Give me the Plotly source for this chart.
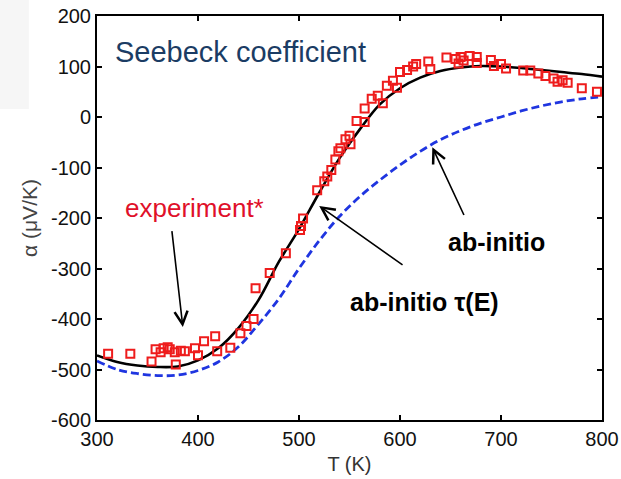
import plotly.graph_objects as go

# ---- data ----
T_exp = [311, 333, 354, 358, 363, 366, 370, 372, 377, 378, 383, 387, 397, 400, 406, 417, 419, 432,
         442, 448, 455, 457, 471, 487, 501, 502, 504, 518, 525, 528, 532, 536, 539, 541, 546, 550,
         551, 557, 565, 565, 572, 578, 583, 587, 593, 597, 600, 607, 613, 616, 628, 630, 646, 655,
         658, 660, 663, 669, 676, 676, 690, 693, 700, 705, 722, 729, 737, 744, 752, 756, 761, 766,
         780, 795]
S_exp = [-469, -469, -484, -460, -466, -458, -456, -460, -466, -490, -463, -464, -458, -472, -444, -434, -464, -457,
         -428, -414, -400, -339, -309, -270, -224, -216, -201, -145, -127, -118, -105, -84, -68, -62, -44, -37,
         -54, -8, -10, 17, 36, 42, 27, 62, 72, 58, 89, 93, 100, 105, 110, 95, 118, 115,
         106, 119, 112, 121, 119, 107, 113, 101, 105, 96, 92, 92, 86, 81, 76, 70, 73, 68,
         57, 50]

T_calc = [300, 320, 340, 360, 380, 400, 420, 440, 460, 480, 500, 520, 540, 560, 580, 600, 620, 640,
          660, 680, 700, 720, 740, 760, 780, 800]
S_tauE = [-472, -485, -492, -495, -494, -482, -458, -418, -362, -287, -222, -150, -82, -25, 25, 57, 78, 91,
          98, 101, 100, 97, 93, 89, 85, 80]
S_abinitio = [-483, -500, -508, -512, -511, -502, -485, -455, -410, -360, -300, -245, -197, -158, -125, -95, -68, -45,
              -27, -12, 0, 12, 22, 30, 36, 40]

x_ticks = [300, 400, 500, 600, 700, 800]
y_ticks = [-600, -500, -400, -300, -200, -100, 0, 100, 200]

FONT = "Arial, Liberation Sans, Helvetica, sans-serif"

fig = go.Figure()
fig.add_trace(go.Scatter(x=T_calc, y=S_abinitio, mode="lines", line=dict(color="#1f35e0", width=2.8, dash="8px,4px", shape="spline"),
                         showlegend=False, hoverinfo="skip"))
fig.add_trace(go.Scatter(x=T_calc, y=S_tauE, mode="lines", line=dict(color="black", width=2.6, shape="spline"),
                         showlegend=False, hoverinfo="skip"))
fig.add_trace(go.Scatter(x=T_exp, y=S_exp, mode="markers",
                         marker=dict(symbol="square-open", size=8, color="#ee1c1c", line=dict(width=2, color="#ee1c1c")),
                         showlegend=False))

# text labels
fig.add_annotation(x=316, y=129, xref="x", yref="y", text="Seebeck coefficient", showarrow=False, xanchor="left",
                   font=dict(family=FONT, size=29, color="#1b3c64"))
fig.add_annotation(x=397, y=-180, xref="x", yref="y", text="experiment*", showarrow=False,
                   font=dict(family=FONT, size=26, color="#e0102a"))
fig.add_annotation(x=696, y=-247, xref="x", yref="y", text="<b>ab-initio</b>", showarrow=False,
                   font=dict(family=FONT, size=25, color="black"))
fig.add_annotation(x=624, y=-366, xref="x", yref="y", text="<b>ab-initio τ(E)</b>", showarrow=False,
                   font=dict(family=FONT, size=25, color="black"))

# arrows
arrows = [((385, -416), (374, -223)), ((520, -176), (604, -295)), ((632, -60), (664, -197))]
for (hx, hy), (tx, ty) in arrows:
    fig.add_annotation(x=hx, y=hy, ax=tx, ay=ty, xref="x", yref="y", axref="x", ayref="y", text="",
                       showarrow=True, arrowhead=5, arrowsize=1.6, arrowwidth=1.6, arrowcolor="black", standoff=0)

fig.add_shape(type="rect", xref="paper", yref="paper", x0=-0.192, x1=-0.135, y0=0.77, y1=1.04,
              fillcolor="#f6f6f6", line=dict(width=0), layer="below")

axis_common = dict(showline=True, linecolor="black", linewidth=2, mirror="ticks", ticks="inside",
                   ticklen=5, tickwidth=1.5, tickcolor="black", showgrid=False, zeroline=False,
                   automargin=False,
                   tickfont=dict(family=FONT, size=20, color="#111111"))
fig.update_xaxes(range=[300, 800], tickvals=x_ticks, ticktext=[str(v) for v in x_ticks],
                 title=dict(text="T (K)", font=dict(family=FONT, size=20, color="#333333"), standoff=8),
                 **axis_common)
fig.update_yaxes(range=[-600, 200], tickvals=y_ticks, ticktext=[str(v) for v in y_ticks],
                 title=dict(text="α (μV/K)", font=dict(family=FONT, size=21, color="#444444"), standoff=8),
                 **axis_common)

fig.update_layout(width=621, height=479, margin=dict(l=97, r=19, t=16, b=59),
                  paper_bgcolor="white", plot_bgcolor="white")

fig.write_html("out.html", config={"displayModeBar": False},
               post_script="document.body.style.margin='0';document.body.style.padding='0';document.body.style.overflow='hidden';")
